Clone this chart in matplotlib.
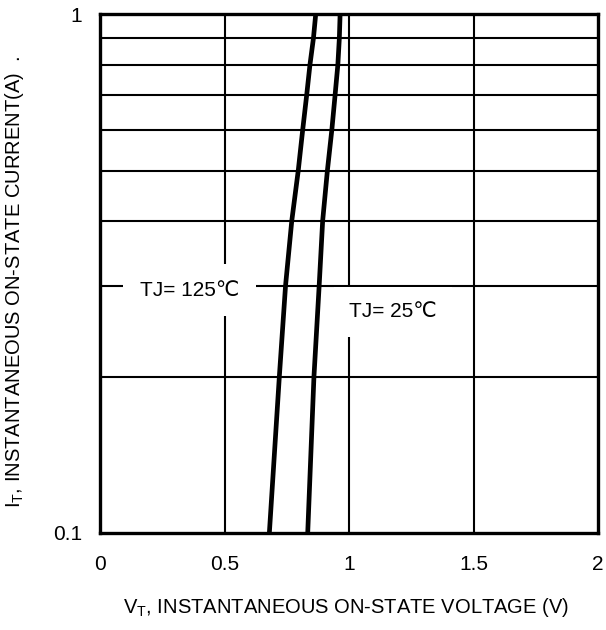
import matplotlib
matplotlib.use("Agg")
import matplotlib.pyplot as plt

plt.rcParams["font.family"] = ["Liberation Sans", "DejaVu Sans"]
plt.rcParams["mathtext.default"] = "regular"

# 读取自图中的数据
current_a = [0.1, 0.2, 0.3, 0.4, 0.5, 0.6, 0.7, 0.8, 0.9, 1.0]
vt_125c = [0.680, 0.720, 0.745, 0.770, 0.796, 0.814, 0.830, 0.843, 0.857, 0.866]
vt_25c = [0.834, 0.859, 0.880, 0.894, 0.913, 0.931, 0.944, 0.955, 0.961, 0.964]

x_ticks = [0, 0.5, 1, 1.5, 2]
x_tick_labels = ["0", "0.5", "1", "1.5", "2"]
y_grid = [0.2, 0.3, 0.4, 0.5, 0.6, 0.7, 0.8, 0.9]

fig = plt.figure(figsize=(6.06, 6.30), dpi=100)
ax = fig.add_axes([0.165, 0.154, 0.822, 0.823])

ax.set_yscale("log")
ax.set_xlim(0, 2)
ax.set_ylim(0.1, 1)

# 网格线
for y in y_grid:
    ax.axhline(y, color="black", lw=1.5, zorder=1)
for x in x_ticks[1:-1]:
    ax.axvline(x, color="black", lw=1.5, zorder=1)

# 曲线
ax.plot(vt_125c, current_a, color="black", lw=3.4, solid_capstyle="butt", zorder=3)
ax.plot(vt_25c, current_a, color="black", lw=3.4, solid_capstyle="butt", zorder=3)

# 标注
ax.text(0.161, 0.294, "TJ= 125\u2103", fontsize=15, va="center", ha="left", zorder=2,
        bbox=dict(facecolor="white", edgecolor="none", pad=12))
ax.text(1.0, 0.267, "TJ= 25\u2103", fontsize=15, va="center", ha="left", zorder=2,
        bbox=dict(facecolor="white", edgecolor="none", pad=11))

ax.set_xticks(x_ticks)
ax.set_xticklabels(x_tick_labels)
ax.set_yticks([0.1, 1])
ax.set_yticklabels(["0.1", "1"])
ax.yaxis.set_minor_locator(matplotlib.ticker.NullLocator())
ax.tick_params(axis="both", length=0, labelsize=15)
ax.tick_params(axis="x", pad=16)
ax.tick_params(axis="y", pad=13)

for s in ax.spines.values():
    s.set_linewidth(2.4)

fig.text(0.571, 0.036, "V$_{T}$, INSTANTANEOUS ON-STATE VOLTAGE (V)", fontsize=14.5,
         ha="center", va="center")
fig.text(0.024, 0.552, "I$_{T}$, INSTANTANEOUS ON-STATE CURRENT(A)  .", fontsize=14.5,
         ha="center", va="center", rotation=90)

fig.savefig("out.png", dpi=100)
